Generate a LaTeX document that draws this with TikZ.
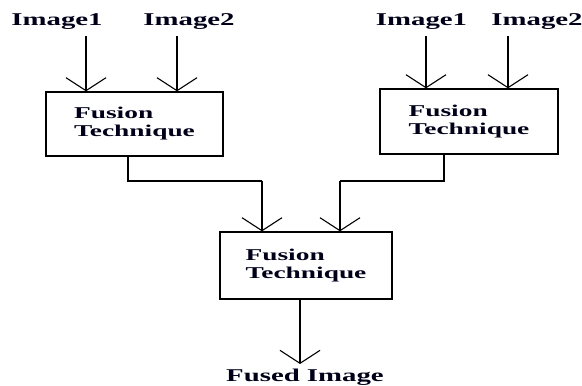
\documentclass[tikz,border=0pt]{standalone}
\usepackage{fontspec}
\newfontfamily\lblout{Liberation Serif}[FakeStretch=1.6]
\newfontfamily\lblin{Liberation Serif}[FakeStretch=1.66]
\usetikzlibrary{arrows.meta}
\tikzset{
  lab/.style={font=\lblout\bfseries\fontsize{18}{19}\selectfont, text=black!90!blue, inner sep=0pt},
  box/.style={draw, line width=1.3pt, minimum width=#1, align=left,
              font=\lblin\bfseries\fontsize{16.5}{18}\selectfont, text=black!90!blue},
  arr/.style={line width=1.3pt, -{Straight Barb[length=13pt,width=40pt,line width=1.1pt]}},
  ln/.style={line width=1.3pt}
}
\begin{document}
\begin{tikzpicture}[x=1pt,y=-1pt]
\useasboundingbox (0,0) rectangle (582,386);
% boxes
\node[box=177pt, minimum height=64pt] (L) at (134.5,124) {Fusion\\Technique};
\node[box=178pt, minimum height=65pt] (R) at (469,121.5) {Fusion\\Technique};
\node[box=172pt, minimum height=67pt] (M) at (306,265.5) {Fusion\\Technique};
% labels
\node[lab] (l1) at (57,22) {Image1};
\node[lab] (l2) at (189,22) {Image2};
\node[lab] (r1) at (421.5,22) {Image1};
\node[lab] (r2) at (537,22) {Image2};
\node[lab] (out) at (305,377) {Fused Image};
% input arrows
\coordinate (a1) at (86,36);
\coordinate (a2) at (177,36);
\coordinate (a3) at (426,36);
\coordinate (a4) at (508,36);
\draw[arr] (a1) -- (a1 |- L.north);
\draw[arr] (a2) -- (a2 |- L.north);
\draw[arr] (a3) -- (a3 |- R.north);
\draw[arr] (a4) -- (a4 |- R.north);
% connections to middle
\coordinate (lo) at (128,156);
\coordinate (lm) at (262,181);
\coordinate (ro) at (444,154);
\coordinate (rm) at (340,181);
\draw[ln] (lo) |- (lm);
\draw[arr] (lm) -- (lm |- M.north);
\draw[ln] (ro) |- (rm);
\draw[arr] (rm) -- (rm |- M.north);
% output
\coordinate (mo) at (300,299);
\coordinate (me) at (300,364);
\draw[arr] (mo) -- (me);
\end{tikzpicture}
\end{document}
